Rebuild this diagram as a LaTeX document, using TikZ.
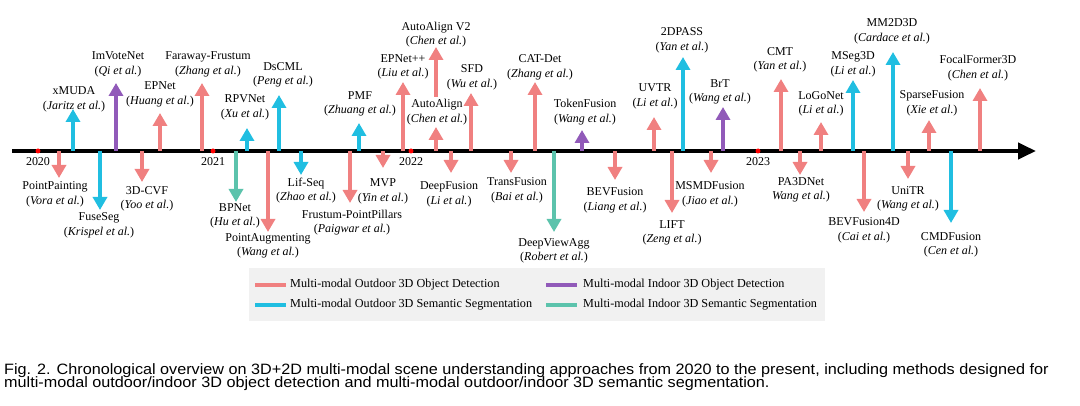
\documentclass[tikz,border=0pt]{standalone}
\usepackage{fontspec}
\setmainfont{Liberation Serif}
\newfontfamily\capfont[FakeStretch=1.08]{Liberation Sans}
\usetikzlibrary{arrows.meta}
\definecolor{cred}{RGB}{240,128,128}
\definecolor{ccyan}{RGB}{32,190,225}
\definecolor{cpurp}{RGB}{145,90,185}
\definecolor{cteal}{RGB}{92,195,172}
\definecolor{legbg}{RGB}{241,241,241}
\tikzset{
  evarrow/.style={line width=4pt,-{Triangle[width=14pt,length=13pt]}},
  lab/.style={align=center,inner sep=0pt,font=\fontsize{12}{14.5}\selectfont},
  yearlab/.style={inner sep=0pt,font=\fontsize{12}{14.5}\selectfont},
  yeardot/.style={circle,fill=red,inner sep=0pt,minimum size=5pt},
  legline/.style={line width=4pt},
  legtext/.style={anchor=west,inner sep=0pt,font=\fontsize{12.2}{14.5}\selectfont},
  captext/.style={anchor=base west,inner sep=0pt,font=\capfont\fontsize{15}{15}\selectfont},
}
% #1 name, #2 colour, #3 x, #4 start y, #5 tip y, #6 label x, #7 label y, #8 title, #9 second line
\newcommand\evt[9]{%
  \coordinate (#1-b) at (#3,#4);
  \coordinate (#1-t) at (#3,#5);
  \draw[evarrow,#2] (#1-b) -- (#1-t);
  \node[lab] (#1) at (#6,#7) {#8\\#9};
}
\newcommand\au[1]{(\textit{#1})}
\begin{document}
\begin{tikzpicture}[x=1pt,y=-1pt]
\useasboundingbox (0,0) rectangle (1080,406);
% timeline
\coordinate (tl-s) at (12,151);
\coordinate (tl-e) at (1036,151);
\draw[line width=4pt,-{Triangle[width=16pt,length=18pt]}] (tl-s) -- (tl-e);
% up arrows
\evt{xmuda}{ccyan}{73}{151}{109}{74}{99.5}{xMUDA}{\au{Jaritz et al.}}
\evt{imvotenet}{cpurp}{116}{151}{83}{118}{64.5}{ImVoteNet}{\au{Qi et al.}}
\evt{epnet}{cred}{160}{151}{113}{160}{94.5}{EPNet}{\au{Huang et al.}}
\evt{faraway}{cred}{202}{151}{83}{208}{64.5}{Faraway-Frustum}{\au{Zhang et al.}}
\evt{rpvnet}{ccyan}{247}{151}{128}{245}{107.5}{RPVNet}{\au{Xu et al.}}
\evt{dscml}{ccyan}{279}{151}{95}{283}{75}{DsCML}{\au{Peng et al.}}
\evt{pmf}{ccyan}{359}{151}{123}{360}{104}{PMF}{\au{Zhuang et al.}}
\evt{epnetpp}{cred}{403}{151}{82}{403}{67}{EPNet++}{\au{Liu et al.}}
\evt{autoalign}{cred}{436}{151}{127}{437}{112}{AutoAlign}{\au{Chen et al.}}
\evt{autoalignv2}{cred}{436}{97}{47}{436}{34.5}{AutoAlign V2}{\au{Chen et al.}}
\evt{sfd}{cred}{471}{151}{93}{472}{77.5}{SFD}{\au{Wu et al.}}
\evt{catdet}{cred}{535}{151}{82}{540}{67.5}{CAT-Det}{\au{Zhang et al.}}
\evt{tokenfusion}{cpurp}{582}{151}{130}{585}{112}{TokenFusion}{\au{Wang et al.}}
\evt{uvtr}{cred}{654}{151}{117}{655}{96.5}{UVTR}{\au{Li et al.}}
\evt{twodpass}{ccyan}{683}{151}{57}{682}{40.5}{2DPASS}{\au{Yan et al.}}
\evt{brt}{cpurp}{723}{151}{107}{720}{92}{BrT}{\au{Wang et al.}}
\evt{cmt}{cred}{781}{151}{79}{780}{60}{CMT}{\au{Yan et al.}}
\evt{logonet}{cred}{821}{151}{122}{821}{104}{LoGoNet}{\au{Li et al.}}
\evt{mseg3d}{ccyan}{853}{151}{80}{853}{64.5}{MSeg3D}{\au{Li et al.}}
\evt{mm2d3d}{ccyan}{893}{151}{52}{892}{31.5}{MM2D3D}{\au{Cardace et al.}}
\evt{sparsefusion}{cred}{929}{151}{120}{932}{103.5}{SparseFusion}{\au{Xie et al.}}
\evt{focalformer}{cred}{980}{151}{88}{978}{68}{FocalFormer3D}{\au{Chen et al.}}
% down arrows
\evt{pointpainting}{cred}{59}{151}{178}{55}{194.5}{PointPainting}{\au{Vora et al.}}
\evt{fuseseg}{ccyan}{100}{151}{210}{99}{225.5}{FuseSeg}{\au{Krispel et al.}}
\evt{threedcvf}{cred}{142}{151}{182}{147}{199}{3D-CVF}{\au{Yoo et al.}}
\evt{bpnet}{cteal}{236}{151}{202}{235}{216}{BPNet}{\au{Hu et al.}}
\evt{pointaug}{cred}{268}{151}{232}{268}{246}{PointAugmenting}{\au{Wang et al.}}
\evt{lifseq}{ccyan}{301}{151}{175}{306}{190.5}{Lif-Seq}{\au{Zhao et al.}}
\evt{fpp}{cred}{350}{151}{203}{352}{222.5}{Frustum-PointPillars}{\au{Paigwar et al.}}
\evt{mvp}{cred}{383}{151}{168}{383}{191.5}{MVP}{\au{Yin et al.}}
\evt{deepfusion}{cred}{451}{151}{173}{449}{194.5}{DeepFusion}{\au{Li et al.}}
\evt{transfusion}{cred}{511}{151}{173}{517}{190.5}{TransFusion}{\au{Bai et al.}}
\evt{deepviewagg}{cteal}{554}{151}{232}{554}{251}{DeepViewAgg}{\au{Robert et al.}}
\evt{bevfusion}{cred}{615}{151}{180}{615}{200.5}{BEVFusion}{\au{Liang et al.}}
\evt{lift}{cred}{672}{151}{213}{672}{233}{LIFT}{\au{Zeng et al.}}
\evt{msmdfusion}{cred}{711}{151}{173}{710}{194.5}{MSMDFusion}{\au{Jiao et al.}}
\evt{pathreednet}{cred}{800}{151}{175}{801}{190}{PA3DNet}{\textit{Wang et al.})}
\evt{bevfusionfourd}{cred}{864}{151}{212}{864}{230.5}{BEVFusion4D}{\au{Cai et al.}}
\evt{unitr}{cred}{908}{151}{179}{908}{199}{UniTR}{\au{Wang et al.}}
\evt{cmdfusion}{ccyan}{951}{151}{223}{951}{245}{CMDFusion}{\au{Cen et al.}}
% years
\foreach \yr/\xx in {2020/38,2021/213,2022/411,2023/758}{
  \node[yeardot] (dot\yr) at (\xx,151) {};
  \node[yearlab] (yr\yr) at (\xx,162) {\yr};
}
% legend
\node[fill=legbg,inner sep=0pt,minimum width=576pt,minimum height=53pt,anchor=north west] (legend) at (249,268) {};
\coordinate (l1a) at (255,285); \coordinate (l1b) at (286,285);
\coordinate (l2a) at (255,305); \coordinate (l2b) at (286,305);
\coordinate (l3a) at (546,285); \coordinate (l3b) at (577,285);
\coordinate (l4a) at (546,305); \coordinate (l4b) at (577,305);
\draw[legline,cred] (l1a) -- (l1b);
\draw[legline,ccyan] (l2a) -- (l2b);
\draw[legline,cpurp] (l3a) -- (l3b);
\draw[legline,cteal] (l4a) -- (l4b);
\node[legtext] (lt1) at (290,285) {Multi-modal Outdoor 3D Object Detection};
\node[legtext] (lt2) at (290,305) {Multi-modal Outdoor 3D Semantic Segmentation};
\node[legtext] (lt3) at (583,285) {Multi-modal Indoor 3D Object Detection};
\node[legtext] (lt4) at (583,305) {Multi-modal Indoor 3D Semantic Segmentation};
% caption
\node[captext] (cap1) at (4,374) {Fig. 2. Chronological overview on 3D+2D multi-modal scene understanding approaches from 2020 to the present, including methods designed for};
\node[captext] (cap2) at (4,388) {multi-modal outdoor/indoor 3D object detection and multi-modal outdoor/indoor 3D semantic segmentation.};
\end{tikzpicture}
\end{document}
